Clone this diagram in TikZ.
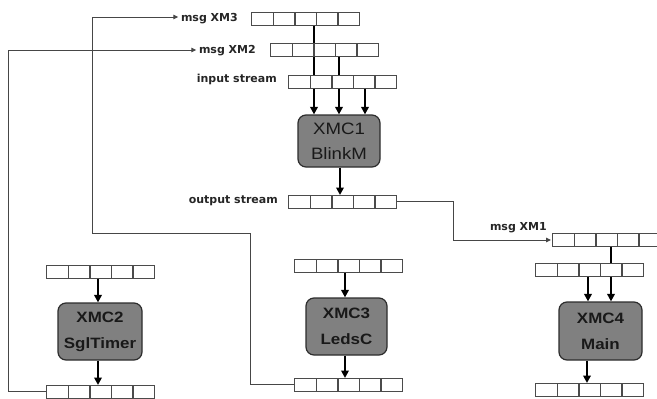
\documentclass[tikz,border=0pt]{standalone}
\usepackage{fontspec}
\setmainfont{Liberation Sans}
\newfontfamily\lblfont{DejaVu Sans}
\newfontfamily\boxfont[FakeStretch=1.13]{Liberation Sans}
\usetikzlibrary{arrows.meta,calc}
\definecolor{bufc}{RGB}{75,75,75}
\definecolor{boxf}{RGB}{128,128,128}
\definecolor{boxb}{RGB}{45,45,45}
\definecolor{boxt}{RGB}{25,25,25}
\definecolor{connc}{RGB}{70,70,70}
\begin{document}
\begin{tikzpicture}[x=1pt,y=-1pt,
  buf/.style={draw=bufc, line width=1.4pt, fill=white, minimum width=108pt,
    minimum height=12.5pt, inner sep=0pt, anchor=north west,
    path picture={\foreach \k in {1,2,3,4}{\draw[bufc, line width=1.3pt]
      ($(path picture bounding box.south west)!\k/5!(path picture bounding box.south east)$) --
      ($(path picture bounding box.north west)!\k/5!(path picture bounding box.north east)$);}}},
  mod/.style={draw=boxb, fill=boxf, line width=1.2pt, rounded corners=8pt,
    inner sep=0pt, align=center, text=boxt,
    font=\boxfont\fontsize{16.5}{25}\selectfont},
  modb/.style={mod, font=\boxfont\bfseries\fontsize{15}{26}\selectfont},
  lbl/.style={font=\lblfont\bfseries\fontsize{11}{13}\selectfont, inner sep=1.5pt, text=black!85},
  arr/.style={line width=2pt, -{Triangle[length=7.5pt,width=7.5pt]}},
  link/.style={line width=2pt},
  conn/.style={draw=connc, line width=1pt, -{Triangle[length=5pt,width=4.5pt]}, shorten >=1pt}
]
\clip (0,0) rectangle (657,399);
\fill[white] (0,0) rectangle (657,399);

% buffers
\node[buf] (b3) at (251,12) {};
\node[buf] (b2) at (270,43) {};
\node[buf] (bin) at (288,75) {};
\node[buf] (bout) at (288,195) {};
\node[buf] (bxm1) at (552,233) {};
\node[buf] (b4in) at (535,263) {};
\node[buf] (b4out) at (535,383) {};
\node[buf] (b2in) at (46,265) {};
\node[buf] (b2out) at (46,385) {};
\node[buf] (b3in) at (294,259) {};
\node[buf] (b3out) at (294,378) {};

% modules
\node[mod, minimum width=82pt, minimum height=52pt] (x1) at (339,141) {XMC1\\BlinkM};
\node[modb, minimum width=84pt, minimum height=57pt] (x2) at (100,331.5) {XMC2\\SglTimer};
\node[modb, minimum width=81pt, minimum height=57pt] (x3) at (346.5,326.5) {XMC3\\LedsC};
\node[modb, minimum width=83pt, minimum height=58pt] (x4) at (600.5,331) {XMC4\\Main};

% labels
\node[lbl, anchor=base east] (lXM3) at (239.5,21) {msg XM3};
\node[lbl, anchor=base east] (lXM2) at (257.5,53) {msg XM2};
\node[lbl, anchor=base east] (lin) at (278.5,82) {input stream};
\node[lbl, anchor=base east] (lout) at (279.5,203) {output stream};
\node[lbl, anchor=base east] (lXM1) at (548.5,230) {msg XM1};

% XMC1 inputs
\path (b3.south west) ++(63,0) coordinate (v1);
\path (b2.south west) ++(69,0) coordinate (v2);
\draw[link] (v1) -- (v1 |- b2.north);
\draw[link] (v1 |- b2.south) -- (v1 |- bin.north);
\draw[link] (v2) -- (v2 |- bin.north);
\path (bin.south west) ++(26,0) coordinate (i1) ++(25,0) coordinate (i2) ++(26,0) coordinate (i3);
\foreach \c in {i1,i2,i3} \draw[arr] (\c) -- (\c |- x1.north);
\path (bout.north west) ++(52,0) coordinate (o1);
\draw[arr] (o1 |- x1.south) -- (o1);

% XMC4
\path (bxm1.south west) ++(59,0) coordinate (v4);
\draw[link] (v4) -- (v4 |- b4in.north);
\path (b4in.south west) ++(53,0) coordinate (j1) ++(23,0) coordinate (j2);
\foreach \c in {j1,j2} \draw[arr] (\c) -- (\c |- x4.north);
\path (b4out.north west) ++(52,0) coordinate (o4);
\draw[arr] (o4 |- x4.south) -- (o4);

% XMC2
\path (b2in.south west) ++(52,0) coordinate (j3);
\draw[arr] (j3) -- (j3 |- x2.north);
\path (b2out.north west) ++(52,0) coordinate (o2);
\draw[arr] (o2 |- x2.south) -- (o2);

% XMC3
\path (b3in.south west) ++(51,0) coordinate (j4);
\draw[arr] (j4) -- (j4 |- x3.north);
\path (b3out.north west) ++(51,0) coordinate (o3);
\draw[arr] (o3 |- x3.south) -- (o3);

% message connectors
\coordinate (k1) at (453,240);
\draw[conn] (bout.east) -| (k1) -- (k1 -| bxm1.west);
\coordinate (k2) at (8,50);
\draw[conn] (b2out.west) -| (k2) -- (k2 -| lXM2.west);
\coordinate (k3a) at (250,233);
\coordinate (k3) at (92,17);
\draw[conn] (b3out.west) -| (k3a) -| (k3) -- (k3 -| lXM3.west);
\end{tikzpicture}
\end{document}
